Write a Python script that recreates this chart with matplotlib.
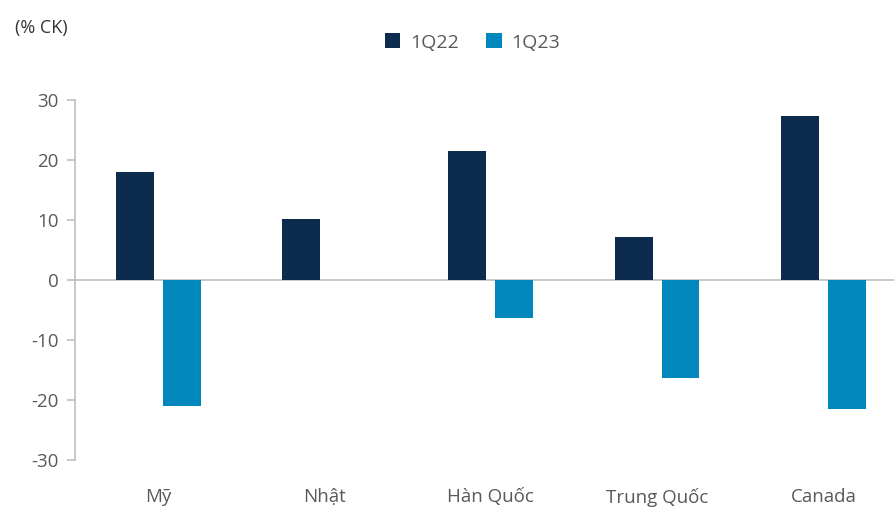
import matplotlib
matplotlib.use("Agg")
import matplotlib.pyplot as plt
import numpy as np

categories = ["Mỹ", "Nhật", "Hàn Quốc", "Trung Quốc", "Canada"]
q1_22 = [18.0, 10.2, 21.6, 7.2, 27.3]
q1_23 = [-21.0, 0.0, -6.4, -16.4, -21.5]
series_labels = ["1Q22", "1Q23"]

plt.rcParams["font.family"] = ["Open Sans", "DejaVu Sans"]
plt.rcParams["axes.unicode_minus"] = False
text_color = "#595959"
axis_color = "#bfbfbf"
c_dark = "#0c2b4d"
c_light = "#0087bb"

fig = plt.figure(figsize=(8.94, 5.11), dpi=100)
ax = fig.add_axes([0.084, 0.1, 0.93, 0.704])

x = np.arange(len(categories))
w = 0.228
off = 0.141
ax.bar(x - off, q1_22, w, color=c_dark, label=series_labels[0], zorder=3)
ax.bar(x + off, q1_23, w, color=c_light, label=series_labels[1], zorder=3)

ax.set_xlim(-0.5, 4.5)
ax.set_ylim(-30, 30)
ax.set_yticks(range(-30, 31, 10))
ax.axhline(0, color=axis_color, lw=1.2, zorder=2)

for s in ["top", "right", "bottom"]:
    ax.spines[s].set_visible(False)
ax.spines["left"].set_color(axis_color)
ax.spines["left"].set_linewidth(1.2)
ax.tick_params(axis="y", colors=axis_color, labelcolor=text_color,
               labelsize=13.5, length=6, width=1.2, pad=6)
ax.tick_params(axis="x", length=0, labelcolor=text_color, labelsize=13.5, pad=20)
ax.set_xticks(x)
ax.set_xticklabels(categories)

fig.text(0.017, 0.945, "(% CK)", fontsize=13, color="#333333", va="center")
ax.legend(loc="center", bbox_to_anchor=(0.478, 1.16), ncol=2, frameon=False,
          fontsize=14, labelcolor=text_color, handlelength=0.8, handleheight=0.8,
          handletextpad=0.5, columnspacing=1.4)

fig.savefig("out.png", dpi=100)
